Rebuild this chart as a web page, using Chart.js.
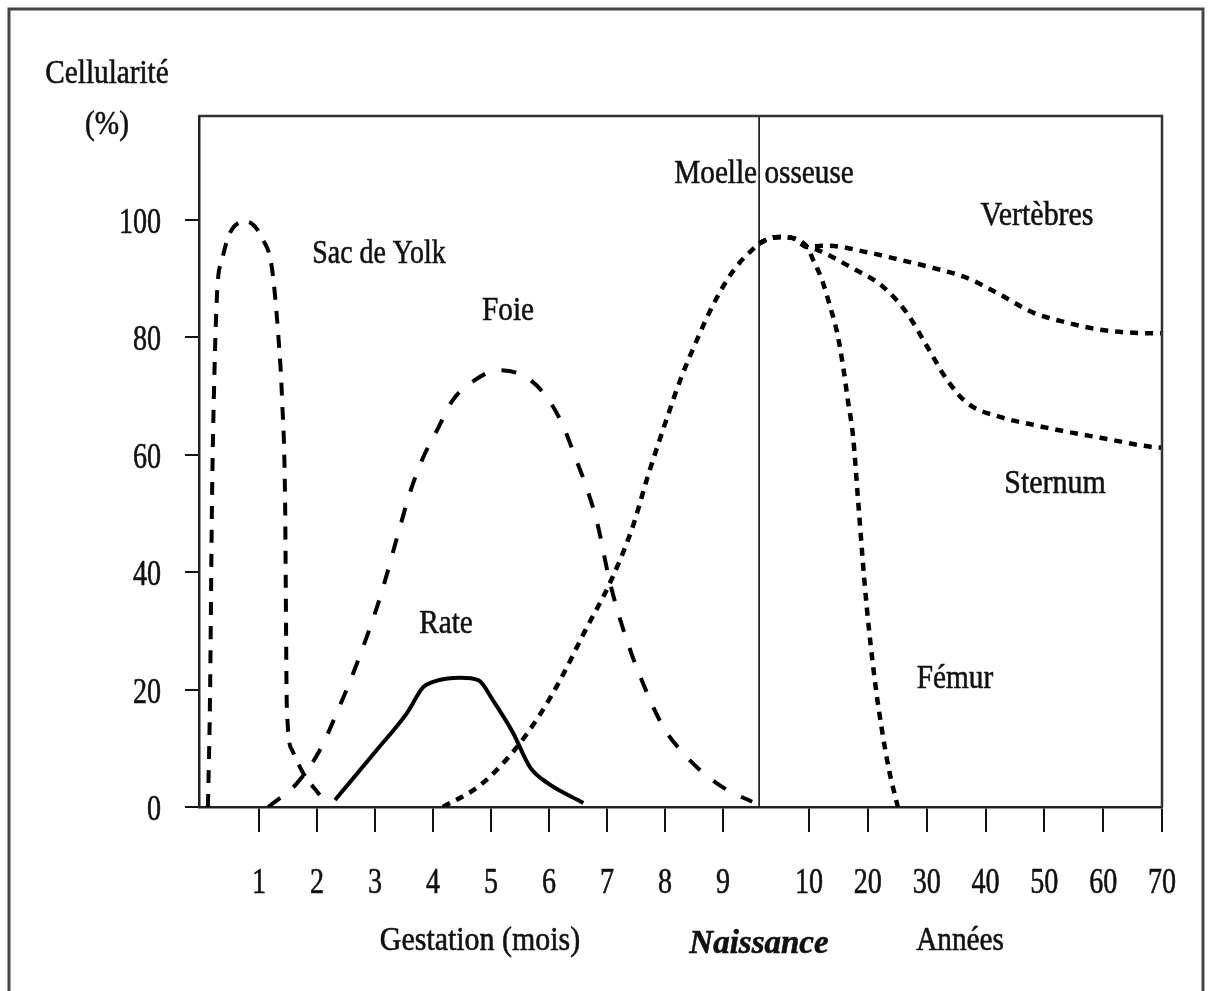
<!DOCTYPE html>
<html>
<head>
<meta charset="utf-8">
<script src="https://cdn.jsdelivr.net/npm/chart.js@4.4.1/dist/chart.umd.min.js"></script>
<style>
  html, body { margin: 0; padding: 0; background: #fff; }
  #wrap { width: 1210px; height: 991px; }
</style>
</head>
<body>
<div id="wrap"><canvas id="hemato" width="1210" height="991"></canvas></div>
<script>
// ---- tick labels ----
const yTicks = [0, 20, 40, 60, 80, 100];
const monthTicks = [1, 2, 3, 4, 5, 6, 7, 8, 9];
const yearTicks = [10, 20, 30, 40, 50, 60, 70];

// ---- prenatal curves (x = months of gestation, y = cellularity %) ----
const sacMonths = [0.12, 0.155, 0.19, 0.22, 0.28, 0.36, 0.5, 0.79, 1.07, 1.22, 1.33, 1.40, 1.45, 1.48, 1.57, 1.76, 2.05];
const sacValues = [0, 18, 52, 69, 88, 93, 97.8, 99.7, 96.6, 92, 80.7, 69, 52, 17, 9.7, 5.8, 2];

const foieMonths = [1.16, 1.66, 2.05, 2.34, 2.69, 3.09, 3.43, 3.60, 3.81, 4.07, 4.34, 4.72, 5.12, 5.59, 5.93, 6.22, 6.45, 6.66, 6.83, 7.05, 7.34, 7.69, 7.97, 8.31, 8.66, 9.07, 9.50];
const foieValues = [0, 4.1, 9.7, 16.0, 24.5, 35.8, 47.7, 53.5, 59.1, 64.2, 69.3, 72.7, 74.4, 73.3, 70.2, 65.4, 59.6, 54.0, 48.4, 38.2, 28.4, 19.4, 13.6, 9.2, 5.8, 2.9, 0.9];

const rateMonths = [2.31, 3.03, 3.55, 3.83, 4.0, 4.47, 4.78, 5.03, 5.38, 5.67, 5.97, 6.59];
const rateValues = [1.2, 9.7, 16, 20.4, 21.3, 22, 21.6, 18.2, 12.6, 6.8, 4.1, 0.7];

const moelleMonths = [4.17, 4.81, 5.38, 5.84, 6.19, 6.62, 7.05, 7.43, 7.71, 8.03, 8.26, 8.55, 8.81, 9.07, 9.29, 9.50, 9.62];
const moelleValues = [0, 3.7, 9.4, 15.7, 21.6, 30, 38.2, 47.4, 56.6, 66.2, 72.7, 79.6, 85.2, 89.8, 92.8, 94.9, 96];

// ---- postnatal curves (x = years after birth) ----
const commonYears = [0, 2.2, 4.2, 6.8, 9.6];
const commonValues = [96, 96.9, 97.1, 96.9, 95.4];

const femurYears = [10.7, 12.2, 13.6, 14.8, 15.8, 16.6, 17.5, 18.3, 19.4, 20.2, 21.4, 22.4, 23.6, 25.1];
const femurValues = [93.2, 89.8, 85.2, 80.7, 75.0, 69.3, 63.0, 52.8, 38.7, 30.2, 19.9, 13.1, 6.3, 0];

const vertebresYears = [10.5, 13.1, 19.9, 25.5, 31.2, 36.9, 42.6, 48.1, 53.9, 59.5, 68.5, 70];
const vertebresValues = [95.5, 95.6, 94.5, 93.2, 91.8, 90.1, 87.2, 84.2, 82.5, 81.3, 80.7, 80.7];

const sternumYears = [11.4, 17.0, 22.6, 26.6, 30.1, 33.5, 36.9, 42.6, 48.1, 53.9, 59.5, 68.5, 70];
const sternumValues = [94.9, 92.0, 88.6, 84.2, 78.4, 72.7, 68.8, 66.4, 65.1, 63.9, 62.9, 61.3, 61.2];

// ---- composite x axis: months before birth, then years ----
const BIRTH = 9.62;     // axis position of birth
const YEAR10 = 10.48;   // axis position of the "10" tick
const DECADE = 1.014;   // axis width of ten years beyond 10
function yearPos(y) {
  return y <= 10 ? BIRTH + y * (YEAR10 - BIRTH) / 10 : YEAR10 + (y - 10) * DECADE / 10;
}
const pts = (xs, ys, f) => xs.map((x, i) => ({ x: f(x), y: ys[i] }));
const month = m => m;

const xTickItems = monthTicks.map(m => ({ value: m, label: String(m) }))
  .concat(yearTicks.map(y => ({ value: yearPos(y), label: String(y) })));

const FONT = '"Liberation Serif", "DejaVu Serif", serif';
const INK = '#111';

function drawText(ctx, text, x, baseline, size, sx, align, style) {
  ctx.save();
  ctx.font = (style || '') + ' ' + size + 'px ' + FONT;
  ctx.fillStyle = INK;
  ctx.strokeStyle = INK;
  ctx.lineWidth = 0.6;
  ctx.textAlign = align || 'center';
  ctx.textBaseline = 'alphabetic';
  ctx.translate(x, baseline);
  ctx.scale(sx, 1);
  ctx.fillText(text, 0, 0);
  ctx.strokeText(text, 0, 0);
  ctx.restore();
}

const decor = {
  id: 'decor',
  beforeDatasetsDraw(chart) {
    const { ctx, chartArea: a, scales: { x } } = chart;
    // birth line
    const bx = x.getPixelForValue(BIRTH);
    ctx.save();
    ctx.strokeStyle = '#111';
    ctx.lineWidth = 1.6;
    ctx.beginPath();
    ctx.moveTo(bx, a.top);
    ctx.lineTo(bx, a.bottom);
    ctx.stroke();
    ctx.restore();
  },
  afterDraw(chart) {
    const { ctx, chartArea: a, scales: { x, y } } = chart;
    ctx.save();
    // outer frame
    ctx.strokeStyle = '#444';
    ctx.lineWidth = 3;
    ctx.strokeRect(9, 9, 1194, 1000);
    // top and right sides of the plot box
    ctx.strokeStyle = '#333';
    ctx.lineWidth = 2.5;
    ctx.beginPath();
    ctx.moveTo(a.left, a.top);
    ctx.lineTo(a.right, a.top);
    ctx.lineTo(a.right, a.bottom);
    ctx.stroke();
    ctx.restore();

    // tick labels
    y.ticks.forEach(t => drawText(ctx, String(t.value), 161, y.getPixelForValue(t.value) + 13, 36, 0.78, 'right'));
    xTickItems.forEach(t => drawText(ctx, t.label, x.getPixelForValue(t.value), 893, 36, 0.78));

    // axis titles
    drawText(ctx, 'Cellularité', 107, 83, 34, 0.86);
    drawText(ctx, '(%)', 107, 134, 34, 0.86);
    drawText(ctx, 'Gestation (mois)', 480, 950, 34, 0.88);
    drawText(ctx, 'Naissance', 759, 953, 33, 1.0, 'center', 'italic bold');
    drawText(ctx, 'Années', 960, 950, 34, 0.86);

    // curve labels
    drawText(ctx, 'Sac de Yolk', 379, 263, 34, 0.82);
    drawText(ctx, 'Foie', 508, 320, 34, 0.86);
    drawText(ctx, 'Rate', 446, 633, 34, 0.86);
    drawText(ctx, 'Moelle osseuse', 764, 183, 34, 0.86);
    drawText(ctx, 'Vertèbres', 1037, 225, 34, 0.88);
    drawText(ctx, 'Sternum', 1055, 493, 34, 0.88);
    drawText(ctx, 'Fémur', 955, 688, 34, 0.86);
  }
};

const ctx = document.getElementById('hemato').getContext('2d');
new Chart(ctx, {
  type: 'line',
  data: {
    datasets: [
      { label: 'Sac de Yolk', data: pts(sacMonths, sacValues, month), borderDash: [13, 11], borderWidth: 4 },
      { label: 'Foie', data: pts(foieMonths, foieValues, month), borderDash: [15, 17], borderWidth: 4 },
      { label: 'Rate', data: pts(rateMonths, rateValues, month), borderWidth: 4 },
      { label: 'Moelle osseuse', data: pts(moelleMonths, moelleValues, month), borderDash: [8, 7], borderWidth: 4.5 },
      { label: 'Fémur', data: pts(commonYears.concat(femurYears), commonValues.concat(femurValues), yearPos), borderDash: [8, 7], borderWidth: 4.5 },
      { label: 'Vertèbres', data: pts(commonYears.concat(vertebresYears), commonValues.concat(vertebresValues), yearPos), borderDash: [8, 7], borderWidth: 4.5 },
      { label: 'Sternum', data: pts(commonYears.concat(sternumYears), commonValues.concat(sternumValues), yearPos), borderDash: [8, 7], borderWidth: 4.5 }
    ]
  },
  options: {
    responsive: false,
    animation: false,
    devicePixelRatio: 1,
    layout: { padding: { top: 116, right: 48, left: 0, bottom: 0 } },
    plugins: { legend: { display: false }, tooltip: { enabled: false } },
    elements: {
      point: { radius: 0 },
      line: { borderColor: '#000', cubicInterpolationMode: 'monotone', borderCapStyle: 'butt', fill: false }
    },
    scales: {
      x: {
        type: 'linear',
        min: -0.034,
        max: yearPos(70),
        afterFit(s) { s.height = 184; },
        afterBuildTicks(s) { s.ticks = xTickItems.map(t => ({ value: t.value })); },
        grid: { drawOnChartArea: false, drawTicks: true, tickLength: 25, color: '#111', lineWidth: 2 },
        border: { display: true, color: '#222', width: 2.5 },
        ticks: { display: false }
      },
      y: {
        min: 0,
        max: 117.7,
        afterFit(s) { s.width = 199; },
        afterBuildTicks(s) { s.ticks = yTicks.map(v => ({ value: v })); },
        grid: { drawOnChartArea: false, drawTicks: true, tickLength: 14, color: '#111', lineWidth: 2 },
        border: { display: true, color: '#222', width: 2.5 },
        ticks: { display: false }
      }
    }
  },
  plugins: [decor]
});
</script>
</body>
</html>
